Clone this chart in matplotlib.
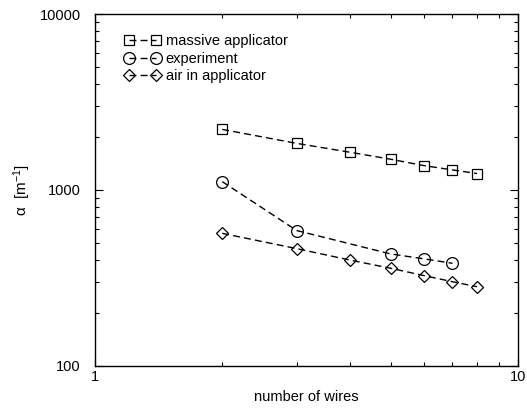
import matplotlib
matplotlib.use("Agg")
import matplotlib.pyplot as plt
from matplotlib.ticker import LogLocator, NullFormatter, FixedLocator, FixedFormatter

plt.rcParams['font.family'] = ['Liberation Sans', 'DejaVu Sans']
plt.rcParams['mathtext.fontset'] = 'custom'
plt.rcParams['mathtext.rm'] = 'Liberation Sans'
plt.rcParams['mathtext.it'] = 'Liberation Sans:italic'

# data
wires = [2, 3, 4, 5, 6, 7, 8]
massive = [2210, 1840, 1640, 1495, 1375, 1300, 1240]
exp_wires = [2, 3, 5, 6, 7]
experiment = [1115, 588, 433, 406, 383]
air = [567, 464, 400, 359, 326, 301, 282]

labels = ["massive applicator", "experiment", "air in applicator"]

fig = plt.figure(figsize=(5.27, 4.13), dpi=100)
ax = fig.add_axes([0.180, 0.114, 0.803, 0.852])

dash = (0, (5, 3))
ax.plot(wires, massive, color='black', lw=1, ls=dash, marker='s', ms=7,
        mfc='none', mec='black', mew=0.9, label=labels[0])
ax.plot(exp_wires, experiment, color='black', lw=1, ls=dash, marker='o', ms=8.5,
        mfc='none', mec='black', mew=0.9, label=labels[1])
ax.plot(wires, air, color='black', lw=1, ls=dash, marker='D', ms=6.5,
        mfc='none', mec='black', mew=0.9, label=labels[2])

ax.set_xscale('log')
ax.set_yscale('log')
ax.set_xlim(1, 10)
ax.set_ylim(100, 10000)

ax.xaxis.set_major_locator(FixedLocator([1, 10]))
ax.xaxis.set_major_formatter(FixedFormatter(['1', '10']))
ax.xaxis.set_minor_locator(LogLocator(base=10, subs=range(2, 10)))
ax.xaxis.set_minor_formatter(NullFormatter())
ax.yaxis.set_major_locator(FixedLocator([100, 1000, 10000]))
ax.yaxis.set_major_formatter(FixedFormatter(['100', '1000', '10000']))
ax.yaxis.set_minor_locator(LogLocator(base=10, subs=range(2, 10)))
ax.yaxis.set_minor_formatter(NullFormatter())

ax.tick_params(which='both', direction='in', top=True, right=True, labelsize=10.5)
ax.tick_params(which='major', length=6, width=0.8)
ax.tick_params(which='minor', length=3, width=0.8)
ax.tick_params(axis='x', pad=3)
ax.tick_params(axis='y', pad=10)
for s in ax.spines.values():
    s.set_linewidth(1)

ax.set_xlabel('number of wires', fontsize=10.5, labelpad=4)
ax.set_ylabel('α  [m$^{\\mathregular{-1}}$]', fontsize=11)
ax.yaxis.set_label_coords(-0.145, 0.5)

ax.legend(loc='upper left', frameon=False, numpoints=2, handlelength=2.4,
          handletextpad=0.4, labelspacing=0.25, fontsize=10.5,
          bbox_to_anchor=(0.04, 0.98))

fig.savefig('out.png', dpi=100)
